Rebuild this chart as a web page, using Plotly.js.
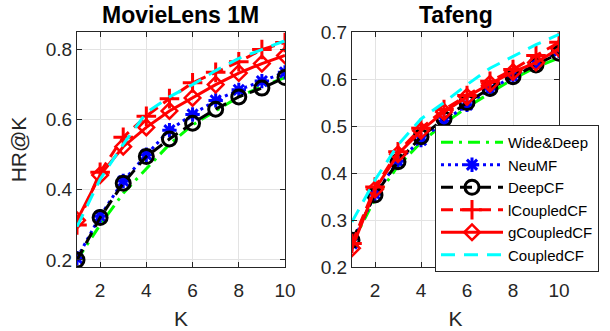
<!DOCTYPE html>
<html>
<head>
<meta charset="utf-8">
<script src="https://cdn.plot.ly/plotly-3.0.1.min.js"></script>
<style>html,body{margin:0;padding:0;background:#fff;}#chart{width:610px;height:331px;}</style>
</head>
<body>
<div id="chart"></div>
<script>
const K = [1,2,3,4,5,6,7,8,9,10];
const seriesNames = ["Wide&Deep","NeuMF","DeepCF","lCoupledCF","gCoupledCF","CoupledCF"];

// MovieLens 1M
const ml_wideDeep  = [0.200,0.300,0.390,0.460,0.530,0.585,0.625,0.665,0.695,0.720];
const ml_neuMF     = [0.205,0.325,0.425,0.500,0.570,0.615,0.655,0.685,0.710,0.735];
const ml_deepCF    = [0.200,0.321,0.419,0.495,0.545,0.590,0.630,0.665,0.690,0.720];
const ml_lCoupled  = [0.300,0.450,0.550,0.610,0.660,0.705,0.735,0.765,0.800,0.820];
const ml_gCoupled  = [0.313,0.442,0.523,0.578,0.625,0.662,0.700,0.733,0.760,0.783];
const ml_coupled   = [0.295,0.430,0.530,0.620,0.665,0.700,0.740,0.775,0.800,0.825];

// Tafeng
const tf_wideDeep  = [0.250,0.345,0.415,0.465,0.505,0.540,0.570,0.600,0.625,0.645];
const tf_neuMF     = [0.250,0.355,0.425,0.470,0.510,0.545,0.578,0.605,0.632,0.660];
const tf_deepCF    = [0.257,0.353,0.424,0.477,0.515,0.550,0.580,0.605,0.630,0.655];
const tf_lCoupled  = [0.250,0.370,0.445,0.495,0.535,0.565,0.595,0.620,0.650,0.678];
const tf_gCoupled  = [0.240,0.365,0.440,0.490,0.530,0.562,0.590,0.615,0.635,0.665];
const tf_coupled   = [0.296,0.385,0.460,0.515,0.550,0.588,0.623,0.648,0.673,0.695];

const styles = [
  {line:{color:"#00ff00",width:3,dash:"12px,6px,3px,6px"},mode:"lines"},
  {line:{color:"#0000ff",width:3,dash:"3px,4px"},mode:"lines+markers",marker:{symbol:"asterisk-open",size:12,line:{color:"#0000ff",width:3}}},
  {line:{color:"#000000",width:3,dash:"12px,7px"},mode:"lines+markers",marker:{symbol:"circle-open",size:14,color:"#000000",line:{color:"#000000",width:3}}},
  {line:{color:"#ff0000",width:3,dash:"12px,7px"},mode:"lines+markers",marker:{symbol:"cross-thin-open",size:14,line:{color:"#ff0000",width:3}}},
  {line:{color:"#ff0000",width:3,dash:"solid"},mode:"lines+markers",marker:{symbol:"diamond-open",size:12,color:"#ff0000",line:{color:"#ff0000",width:2.5}}},
  {line:{color:"#00ffff",width:3,dash:"14px,9px"},mode:"lines"}
];

const mlData = [ml_wideDeep,ml_neuMF,ml_deepCF,ml_lCoupled,ml_gCoupled,ml_coupled];
const tfData = [tf_wideDeep,tf_neuMF,tf_deepCF,tf_lCoupled,tf_gCoupled,tf_coupled];

const traces = [];
mlData.forEach((ys,i)=>{
  traces.push(Object.assign({type:"scatter",x:K,y:ys,name:seriesNames[i],xaxis:"x",yaxis:"y",showlegend:false},JSON.parse(JSON.stringify(styles[i]))));
});
tfData.forEach((ys,i)=>{
  traces.push(Object.assign({type:"scatter",x:K,y:ys,name:seriesNames[i],xaxis:"x2",yaxis:"y2",showlegend:true},JSON.parse(JSON.stringify(styles[i]))));
});

const axisCommon = {
  showline:true, linecolor:"#262626", linewidth:1, mirror:"ticks",
  ticks:"inside", ticklen:5, tickcolor:"#262626",
  showgrid:true, gridcolor:"#e3e3e3", gridwidth:1, zeroline:false,
  tickfont:{family:"Liberation Sans, Arial, sans-serif", size:19, color:"#262626"}
};
const W = 610, H = 331;
const layout = {
  width:W, height:H,
  margin:{l:0,r:0,t:0,b:0},
  paper_bgcolor:"#ffffff", plot_bgcolor:"#ffffff",
  font:{family:"Liberation Sans, Arial, sans-serif", color:"#262626"},
  xaxis:Object.assign({}, axisCommon, {domain:[77/W,285/W], range:[1,10], tickvals:[2,4,6,8,10], anchor:"y", ticklabelstandoff:6,
    title:{text:"K", font:{size:21,color:"#262626"}, standoff:11}}),
  yaxis:Object.assign({}, axisCommon, {domain:[(H-267)/H,(H-32)/H], range:[0.18,0.85], tickvals:[0.2,0.4,0.6,0.8], ticktext:["0.2","0.4","0.6","0.8"], anchor:"x",
    title:{text:"HR@K", font:{size:21,color:"#262626"}, standoff:13}}),
  xaxis2:Object.assign({}, axisCommon, {domain:[352/W,559/W], range:[1,10], tickvals:[2,4,6,8,10], anchor:"y2", ticklabelstandoff:6,
    title:{text:"K", font:{size:21,color:"#262626"}, standoff:11}}),
  yaxis2:Object.assign({}, axisCommon, {domain:[(H-267)/H,(H-32)/H], range:[0.2,0.7], tickvals:[0.2,0.3,0.4,0.5,0.6,0.7], ticktext:["0.2","0.3","0.4","0.5","0.6","0.7"], anchor:"x2"}),
  legend:{x:435/W, y:(H-125)/H, xanchor:"left", yanchor:"top", bgcolor:"#ffffff", bordercolor:"#262626", borderwidth:1,
    font:{size:15,color:"#000000"}, itemwidth:62, tracegroupgap:0},
  annotations:[
    {text:"<b>MovieLens 1M</b>", xref:"paper", yref:"paper", x:181/W, y:(H-15)/H, xanchor:"center", yanchor:"middle", showarrow:false, font:{size:23,color:"#000000"}},
    {text:"<b>Tafeng</b>", xref:"paper", yref:"paper", x:456/W, y:(H-15)/H, xanchor:"center", yanchor:"middle", showarrow:false, font:{size:23,color:"#000000"}}
  ]
};
Plotly.newPlot("chart", traces, layout, {displayModeBar:false, staticPlot:true});
</script>
</body>
</html>
